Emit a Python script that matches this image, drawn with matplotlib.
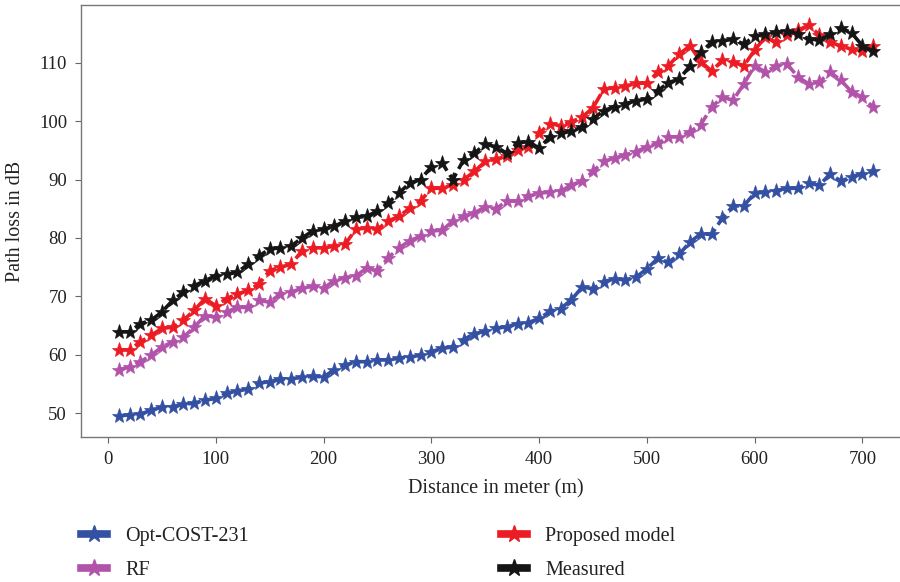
import matplotlib
matplotlib.use("Agg")
import matplotlib.pyplot as plt
from matplotlib.lines import Line2D
from matplotlib.legend_handler import HandlerLine2D

plt.rcParams['font.family'] = ['Liberation Serif', 'DejaVu Serif']

distance = [10, 20, 30, 40, 50, 60, 70, 80, 90, 100,
            110, 120, 130, 140, 150, 160, 170, 180, 190, 200,
            210, 220, 230, 240, 250, 260, 270, 280, 290, 300,
            310, 320, 330, 340, 350, 360, 370, 380, 390, 400,
            410, 420, 430, 440, 450, 460, 470, 480, 490, 500,
            510, 520, 530, 540, 550, 560, 570, 580, 590, 600,
            610, 620, 630, 640, 650, 660, 670, 680, 690, 700, 710]

opt_cost231 = [49.5, 49.7, 49.8, 50.5, 51.0, 51.1, 51.5, 51.7, 52.2, 52.5,
               53.4, 53.8, 54.1, 55.1, 55.4, 55.8, 55.9, 56.1, 56.3, 56.2,
               57.4, 58.2, 58.8, 58.8, 59.1, 59.1, 59.4, 59.6, 59.9, 60.5,
               61.1, 61.3, 62.6, 63.6, 64.0, 64.5, 64.8, 65.3, 65.5, 66.2,
               67.4, 67.9, 69.4, 71.6, 71.3, 72.5, 73.0, 72.8, 73.3, 74.7,
               76.5, 75.8, 77.2, 79.3, 80.7, 80.6, 83.4, 85.5, 85.5, 87.7,
               87.8, 88.1, 88.5, 88.5, 89.4, 89.0, 91.0, 89.7, 90.5, 91.0, 91.4]

rf = [57.4, 57.9, 58.8, 59.9, 61.3, 62.2, 63.0, 64.7, 66.7, 66.4,
      67.3, 68.1, 68.1, 69.3, 69.0, 70.4, 70.7, 71.4, 71.7, 71.4,
      72.7, 73.2, 73.5, 74.8, 74.4, 76.6, 78.3, 79.5, 80.3, 81.2,
      81.3, 82.9, 83.7, 84.3, 85.3, 85.0, 86.3, 86.3, 87.1, 87.7,
      87.8, 88.0, 89.1, 89.7, 91.4, 93.1, 93.7, 94.2, 94.8, 95.6,
      96.2, 97.3, 97.3, 98.2, 99.4, 102.4, 104.1, 103.6, 106.4, 109.5,
      108.4, 109.5, 109.8, 107.6, 106.4, 106.7, 108.4, 107.0, 105.0, 104.1, 102.4]

proposed = [60.8, 60.8, 62.2, 63.3, 64.5, 64.7, 65.9, 67.6, 69.6, 68.4,
            69.6, 70.4, 71.0, 72.1, 74.4, 75.0, 75.5, 77.8, 78.3, 78.3,
            78.6, 78.9, 81.5, 81.7, 81.5, 82.9, 83.7, 85.1, 86.3, 88.5,
            88.5, 89.1, 90.0, 91.4, 93.1, 93.5, 94.0, 95.1, 95.6, 97.9,
            99.6, 99.2, 99.9, 100.7, 102.3, 105.5, 105.7, 106.0, 106.5, 106.5,
            108.4, 109.5, 111.5, 112.9, 110.2, 108.6, 110.4, 110.1, 109.5, 112.2,
            114.4, 113.5, 114.8, 115.6, 116.4, 114.8, 113.5, 112.9, 112.3, 112.0, 112.9]

measured = [63.9, 63.9, 65.3, 65.9, 67.3, 69.3, 70.7, 71.8, 72.7, 73.5,
            73.8, 74.1, 75.5, 76.9, 78.1, 78.3, 78.6, 80.0, 81.2, 81.5,
            82.0, 82.9, 83.5, 83.7, 84.6, 86.0, 87.7, 89.4, 90.0, 92.2,
            92.8, 90.0, 93.4, 94.5, 96.1, 95.6, 94.5, 96.3, 96.5, 95.4,
            97.3, 97.9, 98.3, 99.0, 100.4, 101.8, 102.5, 103.0, 103.5, 103.8,
            105.2, 106.6, 107.2, 109.5, 111.8, 113.5, 113.8, 114.0, 113.2, 114.6,
            114.9, 115.2, 115.4, 115.0, 114.1, 113.9, 114.9, 116.0, 115.1, 112.9, 112.0]

labels = ['Opt-COST-231', 'RF', 'Proposed model', 'Measured']
colors = ['#3450a2', '#b253aa', '#ec1c24', '#151515']
series = [opt_cost231, rf, proposed, measured]

x_ticks = [0, 100, 200, 300, 400, 500, 600, 700]
y_ticks = [50, 60, 70, 80, 90, 100, 110]

fig = plt.figure(figsize=(9, 5.82), dpi=100)
ax = fig.add_axes([81 / 900, 1 - 437 / 582, (911 - 81) / 900, (437 - 5) / 582])

for vals, col in zip(series, colors):
    ax.plot(distance, vals, linestyle='--', linewidth=2.6, color=col,
            marker='*', markersize=11, markeredgewidth=0.5,
            markeredgecolor=col, markerfacecolor=col, dashes=(3.5, 1.4))

ax.set_xlim(-25, 745)
ax.set_ylim(45.9, 119.9)
ax.set_xticks(x_ticks)
ax.set_yticks(y_ticks)
ax.tick_params(axis='both', direction='out', length=4, width=0.8,
               color='#666666', labelsize=13.5, labelcolor='#222222', pad=6)
for sp in ax.spines.values():
    sp.set_color('#777777')
    sp.set_linewidth(1.0)

ax.set_xlabel('Distance in meter (m)', fontsize=14.5, color='#222222', labelpad=8)
ax.set_ylabel('Path loss in dB', fontsize=14.5, color='#222222', labelpad=10)


class EndMarkerHandler(HandlerLine2D):
    def get_xdata(self, legend, xdescent, ydescent, width, height, fontsize):
        xdata = [-xdescent, -xdescent + width]
        return xdata, [-xdescent + width * 0.93]


handles = [Line2D([], [], color=c, linewidth=5.5, marker='*', markersize=13,
                  markerfacecolor=c, markeredgecolor=c) for c in colors]
fig.legend(handles, labels, loc='upper left', bbox_to_anchor=(0.07, 0.125),
           ncol=2, frameon=False, fontsize=14.5, handlelength=1.3,
           handletextpad=0.9, columnspacing=12.5, labelspacing=0.7,
           numpoints=1, handler_map={h: EndMarkerHandler() for h in handles},
           labelcolor='#222222')

fig.savefig('out.png', dpi=100)
